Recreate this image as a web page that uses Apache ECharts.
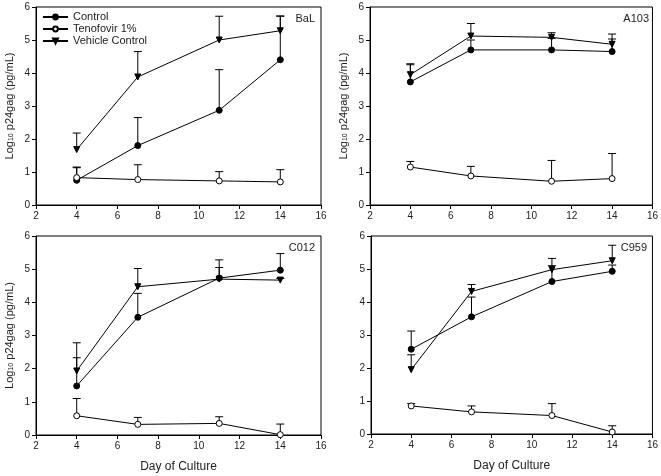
<!DOCTYPE html>
<html><head><meta charset="utf-8">
<script src="https://cdn.jsdelivr.net/npm/echarts@6/dist/echarts.min.js"></script>
<style>html,body{margin:0;padding:0;background:#fff}#c{width:661px;height:476px}</style>
</head><body><div id="c"></div>
<script>
const days = [4, 7, 11, 14];
const panels = ['BaL', 'A103', 'C012', 'C959'];
const xTicks = [2, 4, 6, 8, 10, 12, 14, 16];
const yTicks = [0, 1, 2, 3, 4, 5, 6];
const seriesNames = ['Control', 'Tenofovir 1%', 'Vehicle Control'];

// values per panel: [Control, Tenofovir 1%, Vehicle Control]
const balControl = [0.75, 1.80, 2.87, 4.40];
const balControlErr = [1.13, 2.65, 4.10, 5.72];
const balTeno = [0.83, 0.77, 0.73, 0.70];
const balTenoErr = [1.15, 1.22, 1.01, 1.07];
const balVehicle = [1.68, 3.88, 5.00, 5.28];
const balVehicleErr = [2.18, 4.65, 5.72, 5.73];

const a103Control = [3.73, 4.70, 4.70, 4.65];
const a103ControlErr = [4.25, 5.00, 5.05, 5.03];
const a103Teno = [1.15, 0.88, 0.72, 0.80];
const a103TenoErr = [1.32, 1.17, 1.35, 1.56];
const a103Vehicle = [3.95, 5.12, 5.08, 4.87];
const a103VehicleErr = [4.28, 5.50, 5.22, 5.18];

const c012Control = [1.48, 3.55, 4.73, 4.97];
const c012ControlErr = [2.33, 4.27, 5.05, 5.47];
const c012Teno = [0.58, 0.32, 0.35, 0.01];
const c012TenoErr = [1.10, 0.53, 0.55, 0.33];
const c012Vehicle = [1.93, 4.47, 4.70, 4.67];
const c012VehicleErr = [2.78, 5.02, 5.28, 4.72];

const c959Control = [2.57, 3.55, 4.62, 4.93];
const c959ControlErr = [3.12, 4.15, 5.10, 5.12];
const c959Teno = [0.85, 0.67, 0.56, 0.06];
const c959TenoErr = [0.92, 0.85, 0.92, 0.25];
const c959Vehicle = [1.95, 4.32, 4.98, 5.25];
const c959VehicleErr = [2.40, 4.53, 5.32, 5.72];

const panelData = [
  [[balControl, balControlErr], [balTeno, balTenoErr], [balVehicle, balVehicleErr]],
  [[a103Control, a103ControlErr], [a103Teno, a103TenoErr], [a103Vehicle, a103VehicleErr]],
  [[c012Control, c012ControlErr], [c012Teno, c012TenoErr], [c012Vehicle, c012VehicleErr]],
  [[c959Control, c959ControlErr], [c959Teno, c959TenoErr], [c959Vehicle, c959VehicleErr]]
];

const grids = [
  {left: 36, top: 7, width: 285, height: 198},
  {left: 370, top: 7, width: 285, height: 198},
  {left: 36, top: 236, width: 285, height: 199},
  {left: 371, top: 236, width: 282, height: 198}
];

const font = 'Liberation Sans, Arial, sans-serif';
const symbols = [
  {symbol: 'circle', color: '#000', border: '#000', rot: 0, size: 6},
  {symbol: 'circle', color: '#fff', border: '#000', rot: 0, size: 6},
  {symbol: 'triangle', color: '#000', border: '#000', rot: 180, size: 6}
];

const xAxes = [], yAxes = [], series = [];
grids.forEach((g, i) => {
  xAxes.push({
    gridIndex: i, type: 'value', min: 2, max: 16, interval: 2,
    name: i >= 2 ? 'Day of Culture' : '', nameLocation: 'middle', nameGap: 26,
    nameTextStyle: {fontFamily: font, fontSize: 12, color: '#222'},
    axisLine: {lineStyle: {color: '#000', width: 1}},
    axisTick: {show: true, length: 4, lineStyle: {color: '#000'}},
    axisLabel: {fontFamily: font, fontSize: 10, color: '#222', margin: 6},
    splitLine: {show: false}
  });
  yAxes.push({
    gridIndex: i, type: 'value', min: 0, max: 6, interval: 1,
    name: i === 3 ? '' : 'Log{sub|10} p24gag (pg/mL)', nameLocation: 'middle', nameGap: 21,
    nameTextStyle: {fontFamily: font, fontSize: 11, color: '#222',
      rich: {sub: {fontSize: 7, fontFamily: font, color: '#222', verticalAlign: 'bottom', padding: [4, 0, 0, 0]}}},
    axisLine: {lineStyle: {color: '#000', width: 1}},
    axisTick: {show: true, length: 4, lineStyle: {color: '#000'}},
    axisLabel: {fontFamily: font, fontSize: 10, color: '#222', margin: 6},
    splitLine: {show: false}
  });
  panelData[i].forEach((pair, k) => {
    const vals = pair[0], errs = pair[1];
    series.push({
      type: 'custom', xAxisIndex: i, yAxisIndex: i, silent: true, z: 1,
      data: days.map((d, j) => [d, vals[j], errs[j]]),
      renderItem: function (params, api) {
        const p0 = api.coord([api.value(0), api.value(1)]);
        const p1 = api.coord([api.value(0), api.value(2)]);
        const w = 4;
        return {type: 'group', children: [
          {type: 'line', shape: {x1: p0[0], y1: p0[1], x2: p1[0], y2: p1[1]}, style: {stroke: '#000', lineWidth: 1}},
          {type: 'line', shape: {x1: p1[0] - w, y1: p1[1], x2: p1[0] + w, y2: p1[1]}, style: {stroke: '#000', lineWidth: 1}}
        ]};
      }
    });
  });
  panelData[i].forEach((pair, k) => {
    const s = symbols[k];
    series.push({
      type: 'line', name: seriesNames[k], xAxisIndex: i, yAxisIndex: i, z: 3,
      data: days.map((d, j) => [d, pair[0][j]]),
      symbol: s.symbol, symbolSize: s.size, symbolRotate: s.rot, showAllSymbol: true,
      lineStyle: {color: '#000', width: 1},
      itemStyle: {color: s.color, borderColor: s.border, borderWidth: 1},
      emphasis: {disabled: true}, animation: false
    });
  });
});

const option = {
  animation: false,
  backgroundColor: '#fff',
  grid: grids.map(g => Object.assign({show: true, borderColor: '#000', borderWidth: 1, backgroundColor: 'transparent'}, g)),
  xAxis: xAxes,
  yAxis: yAxes,
  legend: {
    data: seriesNames, orient: 'vertical', left: 42, top: 11, padding: 0,
    itemWidth: 25, itemHeight: 6, itemGap: 0, selectedMode: false,
    textStyle: {fontFamily: font, fontSize: 11, lineHeight: 12, height: 12, color: '#222'}
  },
  graphic: panels.map((p, i) => ({
    type: 'text', right: 661 - (grids[i].left + grids[i].width) + 6, top: grids[i].top + 6,
    style: {text: p, fontFamily: font, fontSize: 11, fill: '#222'}
  })),
  series: series
};
echarts.init(document.getElementById('c')).setOption(option);
</script></body></html>
